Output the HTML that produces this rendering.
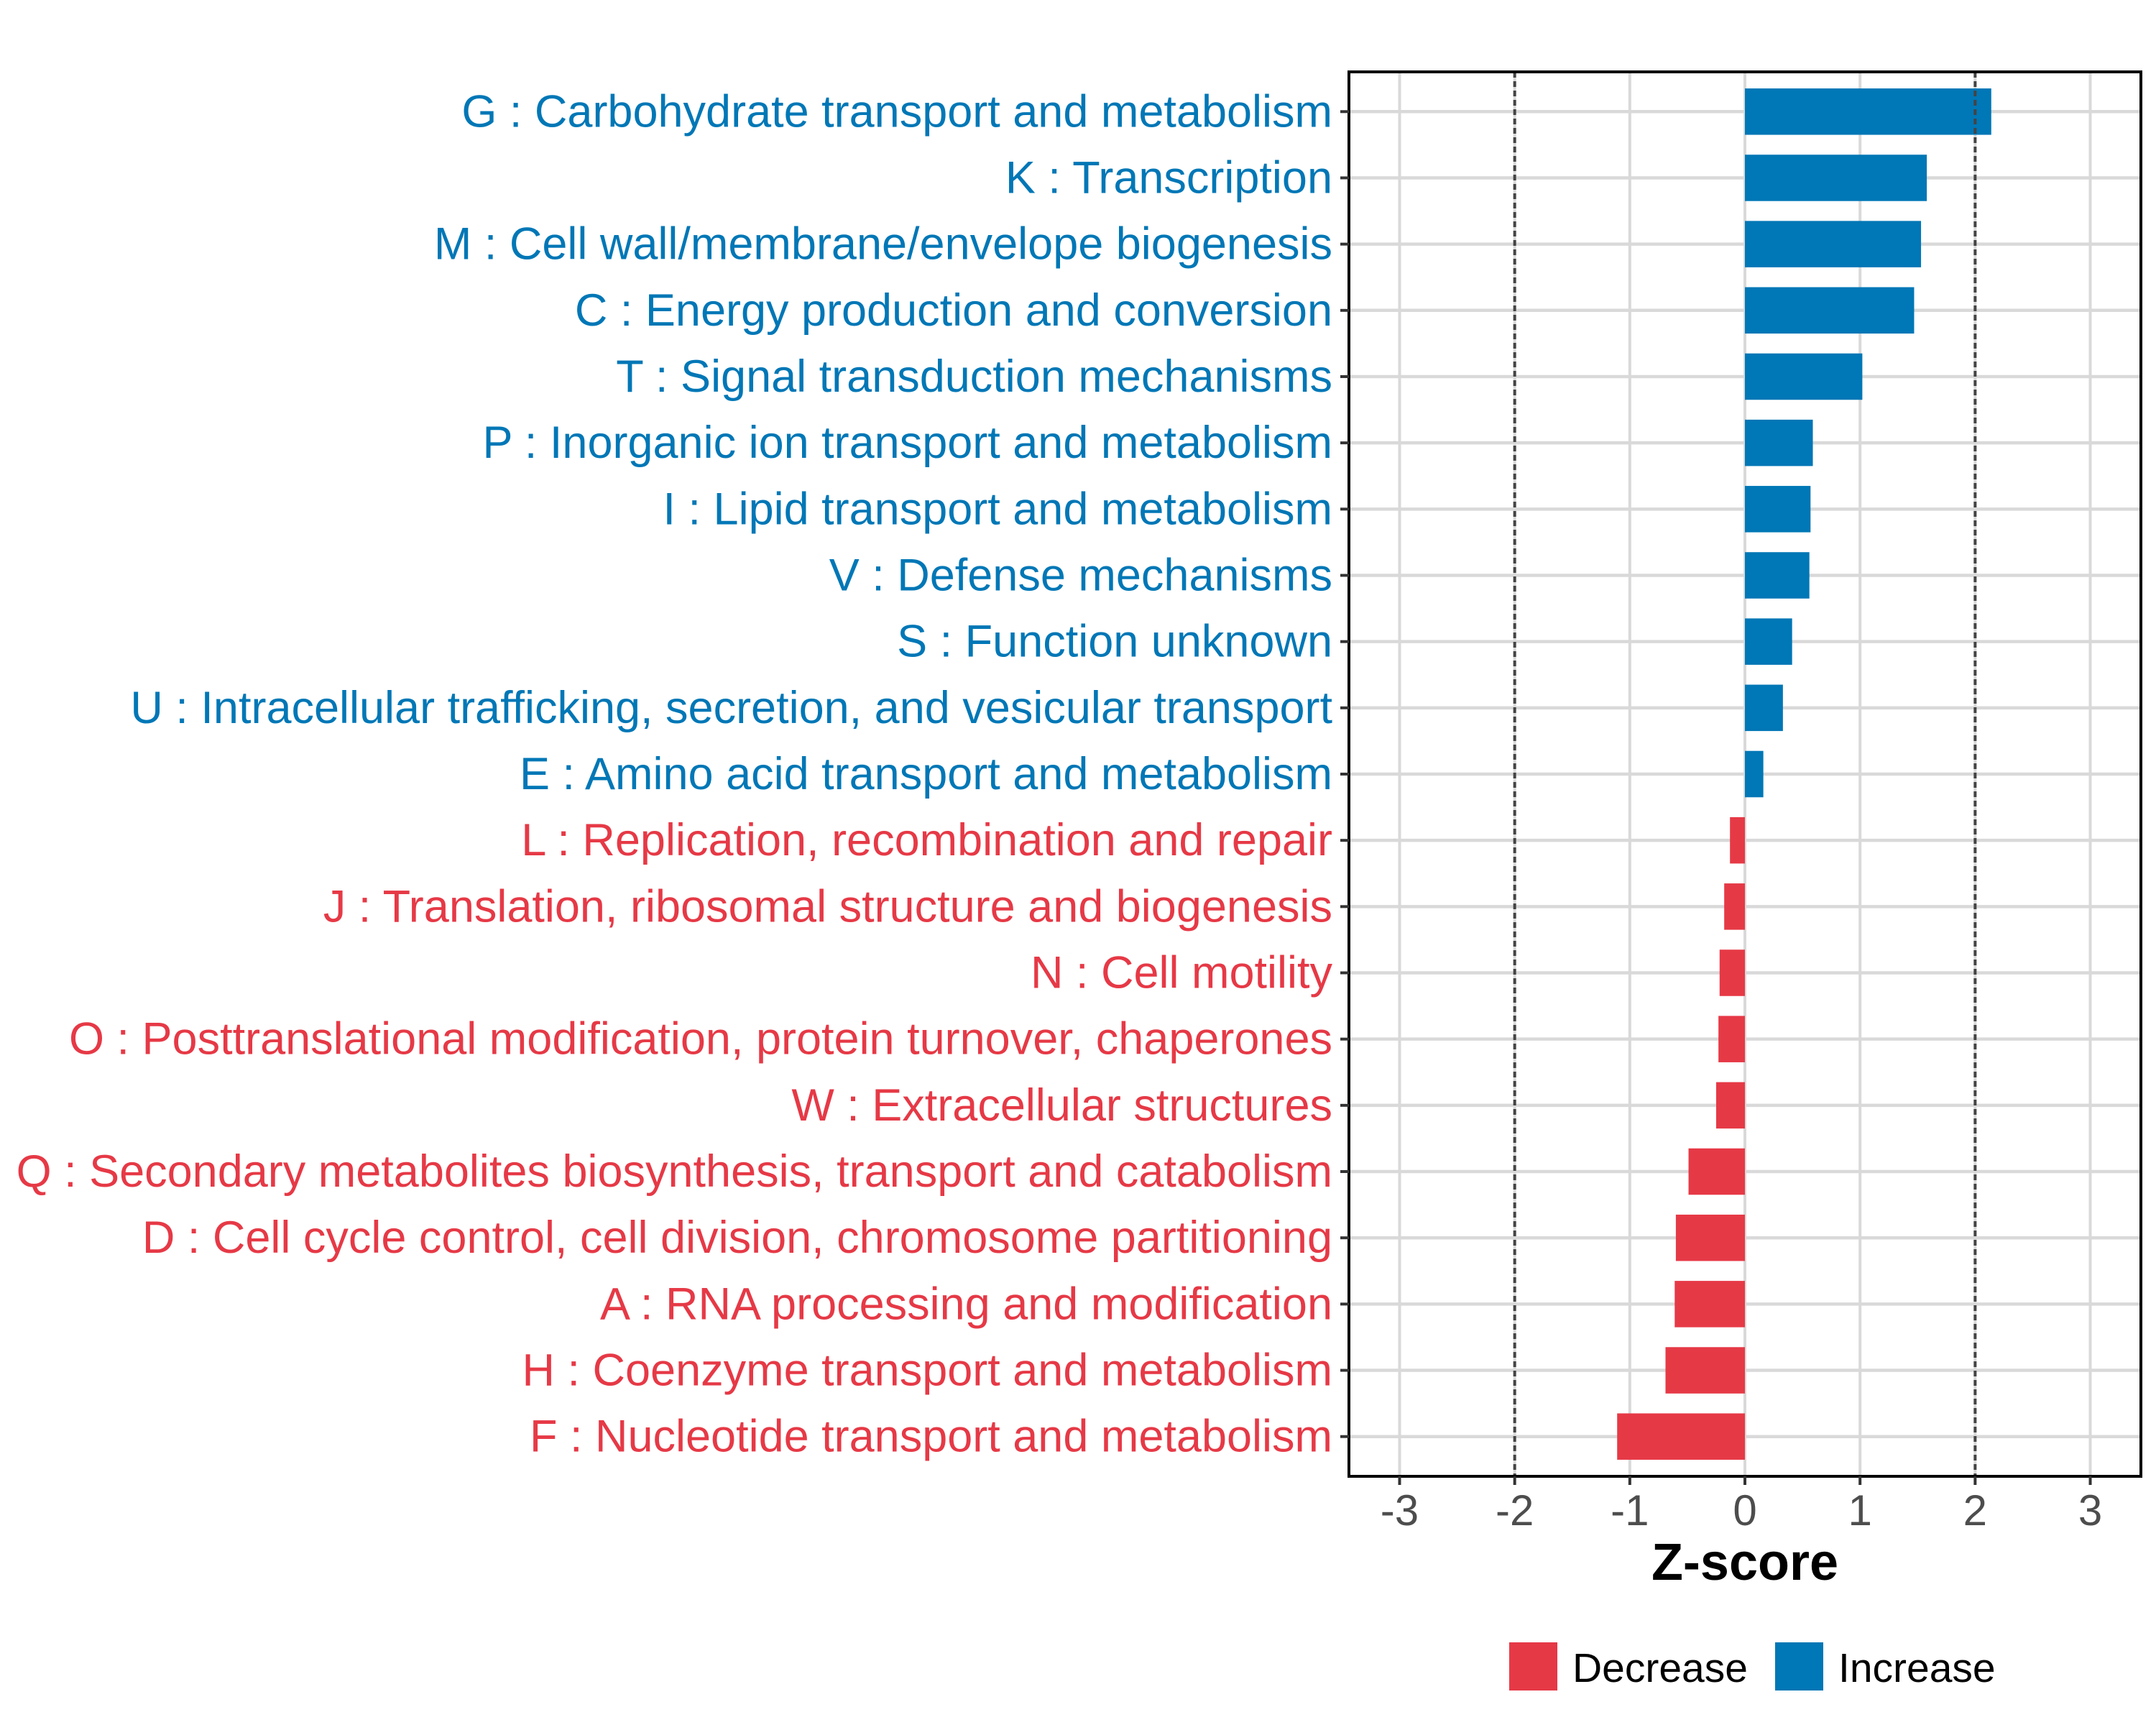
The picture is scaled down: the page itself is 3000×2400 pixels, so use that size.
<!DOCTYPE html>
<html><head><meta charset="utf-8">
<style>html,body{margin:0;padding:0;background:#fff}svg{display:block}text{font-family:"Liberation Sans",Arial,sans-serif}</style>
</head><body>
<svg id="chart" width="3000" height="2400" xmlns="http://www.w3.org/2000/svg"></svg>
<script>
const categories = ["G : Carbohydrate transport and metabolism","K : Transcription","M : Cell wall/membrane/envelope biogenesis","C : Energy production and conversion","T : Signal transduction mechanisms","P : Inorganic ion transport and metabolism","I : Lipid transport and metabolism","V : Defense mechanisms","S : Function unknown","U : Intracellular trafficking, secretion, and vesicular transport","E : Amino acid transport and metabolism","L : Replication, recombination and repair","J : Translation, ribosomal structure and biogenesis","N : Cell motility","O : Posttranslational modification, protein turnover, chaperones","W : Extracellular structures","Q : Secondary metabolites biosynthesis, transport and catabolism","D : Cell cycle control, cell division, chromosome partitioning","A : RNA processing and modification","H : Coenzyme transport and metabolism","F : Nucleotide transport and metabolism"];
const zscores = [2.14,1.58,1.53,1.47,1.02,0.59,0.57,0.56,0.41,0.33,0.16,-0.13,-0.18,-0.22,-0.23,-0.25,-0.49,-0.60,-0.61,-0.69,-1.11];
const xTicks = [-3,-2,-1,0,1,2,3];
const refLines = [-2,2];
const legendLabels = ["Decrease","Increase"];

const NS="http://www.w3.org/2000/svg";
const svg=document.getElementById('chart');
const L=1877,R=2979,T=100,B=2054;
const xmin=-3.44,xmax=3.44;
const BLUE="#0077B6",RED="#E63946";
function xs(v){return L+(v-xmin)/(xmax-xmin)*(R-L);}
const step=(B-T)/(categories.length-1+1.2);
function ys(i){return T+step*(0.6+i);}
function mk(tag,attrs,parent){const e=document.createElementNS(NS,tag);for(const k in attrs)e.setAttribute(k,attrs[k]);(parent||svg).appendChild(e);return e;}

xTicks.forEach(t=>{
  const g=mk('line',{x1:xs(t),x2:xs(t),y1:T,y2:B,stroke:'#D9D9D9','stroke-width':4});
  
  
});
categories.forEach((c,i)=>{
  const g=mk('line',{x1:L,x2:R,y1:ys(i),y2:ys(i),stroke:'#D9D9D9','stroke-width':4.5});
  
  
});
const bh=step*0.7;
categories.forEach((c,i)=>{
  const v=zscores[i];
  const x0=xs(Math.min(0,v)),x1=xs(Math.max(0,v));
  const r=mk('rect',{x:x0,y:ys(i)-bh/2,width:x1-x0,height:bh,fill:v>=0?BLUE:RED});
  
  
});
refLines.forEach(t=>{
  const l=mk('line',{x1:xs(t),x2:xs(t),y1:T,y2:B,stroke:'#444','stroke-width':4,'stroke-dasharray':'8 5'});
  
  
});
const pb=mk('rect',{x:L,y:T,width:R-L,height:B-T,fill:'none',stroke:'#000','stroke-width':4});


categories.forEach((c,i)=>{
  const tk=mk('line',{x1:L-12,x2:L,y1:ys(i),y2:ys(i),stroke:'#333','stroke-width':4});
  
  
  const t=mk('text',{x:L-23,y:ys(i)+21,'text-anchor':'end','font-size':63,fill:zscores[i]>=0?BLUE:RED});
  t.textContent=c;
  
  
});
xTicks.forEach(t=>{
  const tk=mk('line',{x1:xs(t),x2:xs(t),y1:B,y2:B+12,stroke:'#333','stroke-width':4});
  
  
  const lb=mk('text',{x:xs(t),y:2122,'text-anchor':'middle','font-size':60,fill:'#4D4D4D'});
  lb.textContent=String(t);
  
  
});
const xt=mk('text',{x:xs(0),y:2198,'text-anchor':'middle','font-size':72,'font-weight':'bold',fill:'#000'});
xt.textContent='Z-score';


const legX=[2100,2470],legC=[RED,BLUE];
legendLabels.forEach((lab,i)=>{
  const g=mk('g',{});
  
  
  mk('rect',{x:legX[i],y:2285,width:67,height:67,fill:legC[i]},g);
  const t=mk('text',{x:legX[i]+88,y:2340,'font-size':57,fill:'#000'},g);
  t.textContent=lab;
});
</script>
</body></html>
